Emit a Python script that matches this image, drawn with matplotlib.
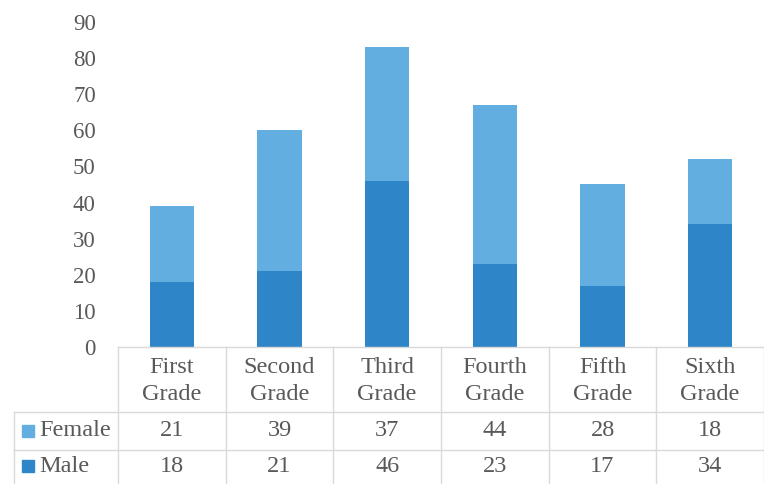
import matplotlib
matplotlib.use("Agg")
import matplotlib.pyplot as plt
import numpy as np

grades = ["First\nGrade", "Second\nGrade", "Third\nGrade", "Fourth\nGrade", "Fifth\nGrade", "Sixth\nGrade"]
female = [21, 39, 37, 44, 28, 18]
male = [18, 21, 46, 23, 17, 34]
yticks = [0, 10, 20, 30, 40, 50, 60, 70, 80, 90]

c_female = "#62AEE0"
c_male = "#2E86C8"
grid_c = "#D9D9D9"
txt_c = "#595959"

plt.rcParams['font.family'] = ['Liberation Serif', 'DejaVu Serif']

W, H = 764, 484
fig = plt.figure(figsize=(W / 100, H / 100), dpi=100)

# main plot, pixel geometry
left, right = 118, 764
y0, y90 = 347, 22
ax = fig.add_axes([left / W, 1 - y0 / H, (right - left) / W, (y0 - y90) / H])
x = np.arange(len(grades))
ax.bar(x, male, width=0.41, color=c_male)
ax.bar(x, female, width=0.41, bottom=male, color=c_female)
ax.set_xlim(-0.5, len(grades) - 0.5)
ax.set_ylim(0, 90)
ax.set_yticks(yticks)
ax.set_xticks([])
ax.tick_params(axis='y', length=0, pad=16, labelsize=16.5, labelcolor=txt_c)
for s in ax.spines.values():
    s.set_visible(False)

# data table underneath
tab = fig.add_axes([left / W, 0, (right - left) / W, (H - y0) / H])
tab.set_xlim(-0.5, len(grades) - 0.5)
tab.set_ylim(H - y0, 0)
tab.axis('off')
row_lines = [0, 65, 103]
colw = (right - left) / len(grades)
lab_left = -0.5 - 104 / colw
bottom = H - y0
lw = 1.0
tab.plot([-0.5, len(grades) - 0.5], [0, 0], color=grid_c, lw=lw, clip_on=False)
for r in row_lines[1:]:
    tab.plot([lab_left, len(grades) - 0.5], [r, r], color=grid_c, lw=lw, clip_on=False)
for i in range(len(grades) + 1):
    tab.plot([i - 0.5, i - 0.5], [0, bottom], color=grid_c, lw=lw, clip_on=False)
tab.plot([lab_left, lab_left], [65, bottom], color=grid_c, lw=lw, clip_on=False)

fs = 17.5
for i, g in enumerate(grades):
    tab.text(i, 34, g, ha='center', va='center', fontsize=fs, color=txt_c, linespacing=1.4)
    tab.text(i, 84, str(female[i]), ha='center', va='center', fontsize=fs, color=txt_c)
    tab.text(i, 119, str(male[i]), ha='center', va='center', fontsize=fs, color=txt_c)

for yy, name, col in [(84, "Female", c_female), (119, "Male", c_male)]:
    tab.add_patch(plt.Rectangle((lab_left + 8 / colw, yy - 6), 12 / colw, 12,
                                color=col, clip_on=False))
    tab.text(lab_left + 25 / colw, yy, name, ha='left', va='center', fontsize=fs,
             color=txt_c)

fig.savefig("out.png", dpi=100)
